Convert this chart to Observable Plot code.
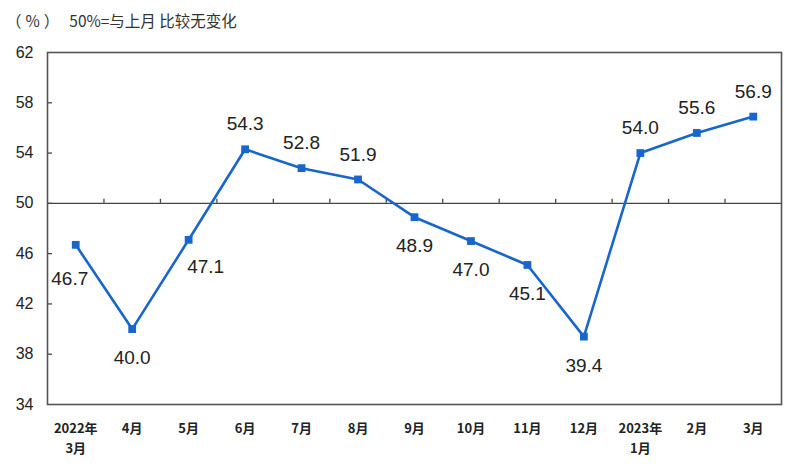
<!DOCTYPE html>
<html><head><meta charset="utf-8">
<script src="https://cdn.jsdelivr.net/npm/d3@7"></script>
<script src="https://cdn.jsdelivr.net/npm/@observablehq/plot@0.6"></script>
<style>
body{margin:0;background:#fff;}
#wrap{position:relative;width:802px;height:475px;font-family:"Liberation Sans",Arial,"Noto Sans CJK SC",sans-serif;}
#title{position:absolute;left:6px;top:9px;font-size:15.5px;color:#333;font-family:"Noto Sans CJK SC","Liberation Sans",sans-serif;white-space:pre;}
#title .u{letter-spacing:4px;margin-right:6px;}
</style></head>
<body><div id="wrap"><div id="title"><span class="u">（%）</span>50%=与上月 比较无变化</div></div>
<script>
const months = ["2022年\n3月","4月","5月","6月","7月","8月","9月","10月","11月","12月","2023年\n1月","2月","3月"];
const values = [46.7,40.0,47.1,54.3,52.8,51.9,48.9,47.0,45.1,39.4,54.0,55.6,56.9];
const labelPos = ["belowLeft","below","belowRight","above","above","above","below","below","below","below","above","above","above"];
const yTicks = [34,38,42,46,50,54,58,62];

const W = 802, H = 475, mL = 47, mR = 21, mT = 52, mB = 71;
const data = values.map((v,i)=>({i, v, m: months[i], pos: labelPos[i]}));
const off = {above:[0,-25], below:[0,29], belowRight:[17,27], belowLeft:[-6,34]};
const xUnitPerPx = 13/(W-mL-mR);
const yUnitPerPx = 28/(H-mT-mB);
const boundaries = d3.range(1, months.length).map(k=>k-0.5);
const color = "#1865cc";

const labelMarks = Object.keys(off).map(p => Plot.text(data.filter(d=>d.pos===p), {
  x:"i", y:"v", text:d=>d.v.toFixed(1), dx:off[p][0], dy:off[p][1],
  fontSize:19, fill:"#222", fontFamily:"'Liberation Sans',Arial,sans-serif"
}));

const chart = Plot.plot({
  width: W, height: H,
  marginLeft: mL, marginRight: mR, marginTop: mT, marginBottom: mB,
  style:{background:"#fff", fontFamily:"'Liberation Sans',Arial,'Noto Sans CJK SC',sans-serif", overflow:"visible"},
  x:{type:"linear", domain:[-0.5, months.length-0.5]},
  y:{domain:[34,62]},
  marks:[
    Plot.ruleY([50], {stroke:"#444", strokeWidth:1.3}),
    Plot.ruleX(boundaries, {x:d=>d, y1:50, y2:50 + 4*yUnitPerPx, stroke:"#444", strokeWidth:1.3}),
    Plot.ruleY(yTicks.slice(1,-1), {y:d=>d, x1:-0.5, x2:-0.5 + 5*xUnitPerPx, stroke:"#444", strokeWidth:1.3}),
    Plot.axisY({ticks:yTicks, tickSize:0, tickPadding:14, fontSize:16, fill:"#222", label:null}),
    Plot.axisX({ticks:d3.range(months.length), tickFormat:i=>months[i], tickSize:0, tickPadding:15, fontSize:13, fontWeight:"bold", lineHeight:1.5, fill:"#222", label:null, textAnchor:"middle", fontFamily:"'Noto Sans CJK SC','Liberation Sans',sans-serif"}),
    Plot.frame({stroke:"#555", strokeWidth:1.6}),
    Plot.line(data, {x:"i", y:"v", stroke:color, strokeWidth:2.6}),
    Plot.dot(data, {x:"i", y:"v", symbol:"square", r:4.4, fill:color, stroke:"none"}),
    ...labelMarks
  ]
});
document.getElementById("wrap").appendChild(chart);
</script></body></html>
